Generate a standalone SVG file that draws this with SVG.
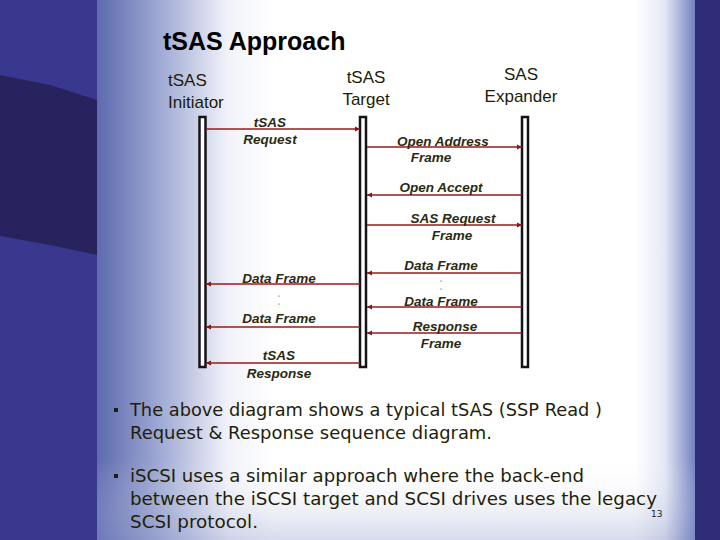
<svg xmlns="http://www.w3.org/2000/svg" width="720" height="540" viewBox="0 0 720 540">
<defs>
<linearGradient id="panelL" x1="0" y1="0" x2="1" y2="0">
<stop offset="0" stop-color="#5d6aae"/>
<stop offset="0.12" stop-color="#a9b2d8"/>
<stop offset="0.22" stop-color="#f2f3fa"/>
<stop offset="0.3" stop-color="#ffffff"/>
<stop offset="0.9" stop-color="#ffffff"/>
<stop offset="0.95" stop-color="#e4e7f4"/>
<stop offset="1" stop-color="#7381c0"/>
</linearGradient>
<linearGradient id="panelB" x1="0" y1="0" x2="0" y2="1">
<stop offset="0" stop-color="#ffffff" stop-opacity="0"/>
<stop offset="0.85" stop-color="#ffffff" stop-opacity="0"/>
<stop offset="1" stop-color="#8a95c8" stop-opacity="0.35"/>
</linearGradient>
<marker id="ah" markerWidth="6" markerHeight="6" refX="5" refY="3" orient="auto" markerUnits="userSpaceOnUse">
<path d="M0,0.5 L5,3 L0,5.5 Z" fill="#8b1414"/>
</marker>
<style>
.hdr{font-family:"Liberation Sans",Arial,sans-serif;font-size:17px;fill:#1c1c08}
.lbl{font-family:"Liberation Sans",Arial,sans-serif;font-size:13.5px;font-weight:bold;font-style:italic;fill:#2a2a12;text-anchor:middle}
.life{fill:#ffffff;stroke:#141414;stroke-width:2.5}
.msg{stroke:#9a1a1a;stroke-width:1.6;fill:none;marker-end:url(#ah)}
.bul{font-family:"DejaVu Sans",Verdana,sans-serif;font-size:17px;fill:#1e1e0a}
.dot{fill:#2a2a12}
</style>
</defs>
<rect x="0" y="0" width="720" height="540" fill="#3a378e"/>
<path d="M0,75 L50,85 L97,100 L97,255 L50,245 L0,236 Z" fill="#28235f"/>
<path d="M695,0 L720,0 L720,540 L695,540 Z" fill="#302d78"/>
<rect x="97" y="0" width="598" height="540" fill="url(#panelL)"/>
<rect x="97" y="0" width="598" height="540" fill="url(#panelB)"/>
<text x="163" y="50" font-family="Liberation Sans,Arial,sans-serif" font-size="25" font-weight="bold" fill="#000">tSAS Approach</text>
<g id="initiator">
<text class="hdr" x="168" y="86">tSAS</text>
<text class="hdr" x="168" y="108">Initiator</text>
<rect class="life" x="199.5" y="117" width="6" height="250"/>
</g>
<g id="target">
<text class="hdr" x="366" y="83" text-anchor="middle">tSAS</text>
<text class="hdr" x="366" y="105" text-anchor="middle">Target</text>
<rect class="life" x="360" y="117" width="6" height="250"/>
</g>
<g id="expander">
<text class="hdr" x="521" y="80" text-anchor="middle">SAS</text>
<text class="hdr" x="521" y="102" text-anchor="middle">Expander</text>
<rect class="life" x="522" y="117" width="6" height="250"/>
</g>
<g id="connectors">
<line class="msg" x1="206" y1="129" x2="360" y2="129"/>
<line class="msg" x1="367" y1="147" x2="522" y2="147"/>
<line class="msg" x1="522" y1="195" x2="367" y2="195"/>
<line class="msg" x1="367" y1="225" x2="522" y2="225"/>
<line class="msg" x1="522" y1="273" x2="367" y2="273"/>
<line class="msg" x1="360" y1="284" x2="206" y2="284"/>
<line class="msg" x1="522" y1="307" x2="367" y2="307"/>
<line class="msg" x1="360" y1="327" x2="206" y2="327"/>
<line class="msg" x1="522" y1="333" x2="367" y2="333"/>
<line class="msg" x1="360" y1="363" x2="206" y2="363"/>
</g>
<g id="labels">
<text class="lbl" x="270" y="127">tSAS</text>
<text class="lbl" x="270" y="144">Request</text>
<text class="lbl" x="443" y="146">Open Address</text>
<text class="lbl" x="431" y="162">Frame</text>
<text class="lbl" x="441" y="192">Open Accept</text>
<text class="lbl" x="453" y="223">SAS Request</text>
<text class="lbl" x="452" y="240">Frame</text>
<text class="lbl" x="441" y="270">Data Frame</text>
<circle class="dot" cx="441" cy="281" r="0.6"/>
<circle class="dot" cx="441" cy="289" r="0.6"/>
<text class="lbl" x="441" y="306">Data Frame</text>
<text class="lbl" x="445" y="331">Response</text>
<text class="lbl" x="441" y="348">Frame</text>
<text class="lbl" x="279" y="283">Data Frame</text>
<circle class="dot" cx="279" cy="296" r="0.6"/>
<circle class="dot" cx="279" cy="304" r="0.6"/>
<text class="lbl" x="279" y="323">Data Frame</text>
<text class="lbl" x="279" y="360">tSAS</text>
<text class="lbl" x="279" y="378">Response</text>
</g>
<g id="bullets">
<rect x="114" y="408" width="4" height="4" fill="#1e1e0a"/>
<text class="bul" x="130" y="416" textLength="472" lengthAdjust="spacingAndGlyphs">The above diagram shows a typical tSAS (SSP Read )</text>
<text class="bul" x="130" y="439" textLength="362" lengthAdjust="spacingAndGlyphs">Request &amp; Response sequence diagram.</text>
<rect x="114" y="474" width="4" height="4" fill="#1e1e0a"/>
<text class="bul" x="130" y="482" textLength="454" lengthAdjust="spacingAndGlyphs">iSCSI uses a similar approach where the back-end</text>
<text class="bul" x="130" y="505" textLength="527" lengthAdjust="spacingAndGlyphs">between the iSCSI target and SCSI drives uses the legacy</text>
<text class="bul" x="130" y="528" textLength="128" lengthAdjust="spacingAndGlyphs">SCSI protocol.</text>
<text x="651" y="517" font-family="DejaVu Sans,sans-serif" font-size="9" fill="#1e1e0a">13</text>
</g>
</svg>
